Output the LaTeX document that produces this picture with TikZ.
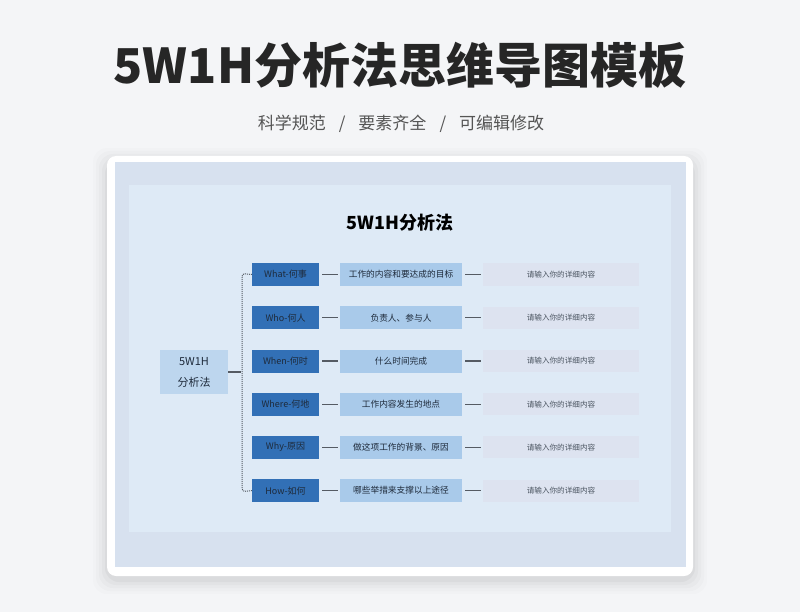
\documentclass[tikz,border=0pt]{standalone}
\usepackage{fontspec}
\setmainfont{Noto Sans CJK SC}
\usetikzlibrary{positioning}
\definecolor{bgc}{HTML}{F4F5F7}
\definecolor{titlec}{HTML}{262626}
\definecolor{subc}{HTML}{555555}
\definecolor{panelout}{HTML}{D7E1EF}
\definecolor{panelin}{HTML}{DEEAF6}
\definecolor{rootc}{HTML}{BDD6EE}
\definecolor{catc}{HTML}{3270B6}
\definecolor{contc}{HTML}{A9CAEA}
\definecolor{detc}{HTML}{DDE3F0}
\definecolor{linec}{HTML}{555B63}
\definecolor{txtc}{HTML}{1E2A3A}
\tikzset{
  catbox/.style={fill=catc, draw=none, minimum width=67pt, minimum height=23pt, inner sep=0pt, text=txtc, font=\fontsize{9}{10}\selectfont},
  contbox/.style={fill=contc, draw=none, minimum width=122pt, minimum height=23pt, inner sep=0pt, text=txtc, font=\fontsize{8.7}{10}\selectfont},
  detbox/.style={fill=detc, draw=none, minimum width=156pt, minimum height=22pt, inner sep=0pt, text=txtc!80, font=\fontsize{7.6}{9}\selectfont},
  conn/.style={draw=linec, line width=1.3pt, shorten <=3pt, shorten >=2pt},
}
\begin{document}
\begin{tikzpicture}[x=1pt,y=-1pt]
\useasboundingbox (0,0) rectangle (800,612);
\fill[bgc] (0,0) rectangle (800,612);
% title
\node[font=\fontsize{48}{56}\selectfont\bfseries, text=titlec] (title) at (400,65) {5W1H分析法思维导图模板};
\node[font=\fontsize{17}{20}\selectfont, text=subc] (sub) at (401,124) {科学规范\hspace{13pt}/\hspace{13pt}要素齐全\hspace{13pt}/\hspace{13pt}可编辑修改};
% card shadow
\foreach \i/\o in {14/0.01,11/0.015,8/0.02,5/0.025,2/0.03}{
  \fill[black, opacity=\o, rounded corners=14pt] (107-\i,158-\i+4) rectangle (693+\i,576+\i+4);
}
\fill[white, rounded corners=9pt] (107,156) rectangle (693,576);
\fill[panelout] (115,162) rectangle (686,567);
\fill[panelin] (129,185) rectangle (671,532);
% chart title
\node[font=\fontsize{18}{20}\selectfont\bfseries, text=black] (ctitle) at (400,223) {5W1H分析法};
% root
\node[fill=rootc, minimum width=68pt, minimum height=44pt, inner sep=0pt, align=center, text=txtc, font=\fontsize{11}{21}\selectfont] (root) at (194,372) {5W1H\\分析法};
% rows
\foreach \n/\y/\c/\t in {
  a/274.5/What-何事/工作的内容和要达成的目标,
  b/317.7/Who-何人/负责人、参与人,
  c/361/When-何时/什么时间完成,
  d/404.2/Where-何地/工作内容发生的地点,
  e/447.4/Why-原因/做这项工作的背景、原因,
  f/490.6/How-如何/哪些举措来支撑以上途径}{
  \node[catbox] (cat\n) at (285.5,\y) {\c};
  \node[contbox] (cont\n) at (401,\y) {\t};
  \node[detbox] (det\n) at (561,\y) {请输入你的详细内容};
  \draw[conn] (cat\n) -- (cont\n);
  \draw[conn] (cont\n) -- (det\n);
}
% bracket
\coordinate (bj) at (241,372);
\draw[draw=linec, line width=1.3pt] (root.east) -- (bj);
\draw[draw=linec, line width=1pt, dash pattern=on 1pt off 1pt, rounded corners=3pt] (cata.west) -- (242,273.5) -- (242,491.6) -- (catf.west);
\end{tikzpicture}
\end{document}
